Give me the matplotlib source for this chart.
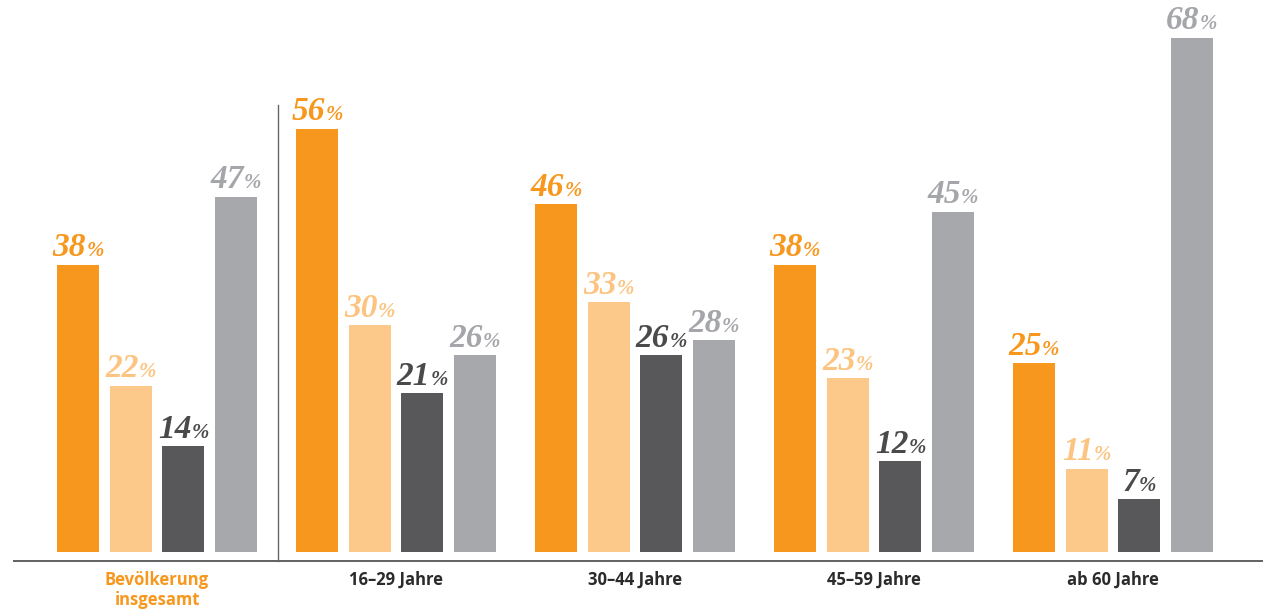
import numpy as np
import matplotlib.pyplot as plt
from matplotlib.offsetbox import TextArea, HPacker, AnnotationBbox

groups = ['Bevölkerung\ninsgesamt', '16–29 Jahre', '30–44 Jahre', '45–59 Jahre', 'ab 60 Jahre']
s1 = [38, 56, 46, 38, 25]
s2 = [22, 30, 33, 23, 11]
s3 = [14, 21, 26, 12, 7]
s4 = [47, 26, 28, 45, 68]

bar_colors = ['#F7971E', '#FDC98A', '#58585A', '#A7A8AC']
text_colors = ['#F7971E', '#FCC480', '#4A4A4C', '#A5A6AA']

fig = plt.figure(figsize=(12.63, 6.09), dpi=100)
ax = fig.add_axes([0, 57 / 609, 1, 552 / 609])
ax.set_xlim(-0.657, 4.628)
ax.set_ylim(0, 73.0)
ax.axis('off')

x = np.arange(len(groups))
offsets = np.array([-1.5, -0.5, 0.5, 1.5]) * 0.22
width = 0.176

for k, vals in enumerate([s1, s2, s3, s4]):
    xs = x + offsets[k]
    ax.bar(xs, vals, width=width, color=bar_colors[k], zorder=2)
    for xi, v in zip(xs, vals):
        num = TextArea(str(v), textprops=dict(color=text_colors[k], fontsize=24,
                                              family='Liberation Serif', style='italic',
                                              weight='bold'))
        pct = TextArea('%', textprops=dict(color=text_colors[k], fontsize=15,
                                           family='Liberation Serif', style='italic',
                                           weight='bold'))
        box = HPacker(children=[num, pct], align='baseline', pad=0, sep=0)
        ab = AnnotationBbox(box, (xi, v), xybox=(0, 1), xycoords='data',
                            boxcoords='offset points', box_alignment=(0.5, 0),
                            frameon=False, pad=0)
        ax.add_artist(ab)

# baseline and separator
ax.plot([-0.657 + 13 / 239, 4.628], [-1.2, -1.2], color='#555555', lw=1.3,
        clip_on=False, solid_capstyle='butt')
ax.plot([0.506, 0.506], [-1.2, 59.1], color='#666666', lw=1.0, clip_on=False)

for i, g in enumerate(groups):
    ax.text(x[i], -2.5, g, ha='center', va='top', fontsize=12, weight='bold',
            family='Open Sans', linespacing=1.15,
            color='#F7971E' if i == 0 else '#2B2B2B', clip_on=False)

fig.savefig('out.png', dpi=100)
